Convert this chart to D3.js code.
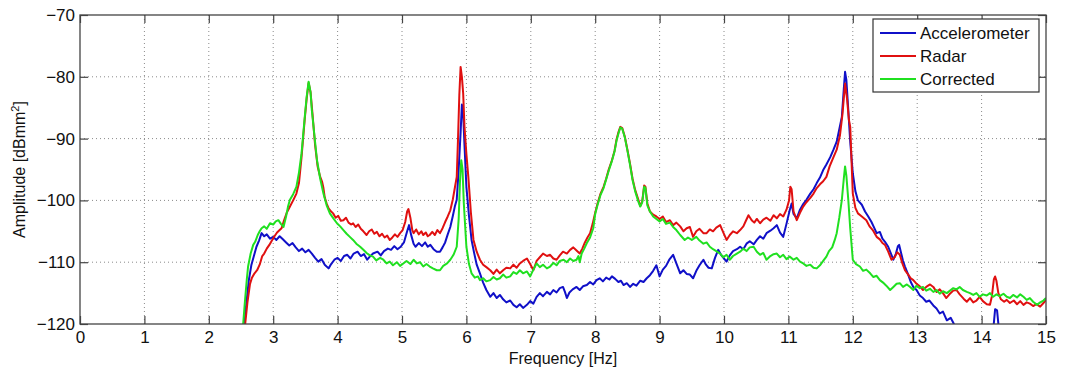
<!DOCTYPE html>
<html>
<head>
<meta charset="utf-8">
<script src="https://cdn.jsdelivr.net/npm/d3@7"></script>
<style>
  body { margin: 0; background: #fff; }
  svg { font-family: "Liberation Sans", Arial, sans-serif; }
</style>
</head>
<body>
<div id="chart"></div>
<script>
// axis ticks
var xTicks = [0, 1, 2, 3, 4, 5, 6, 7, 8, 9, 10, 11, 12, 13, 14, 15];
var yTicks = [-120, -110, -100, -90, -80, -70];
var seriesNames = ["Accelerometer", "Radar", "Corrected"];

// Accelerometer: [Hz, dB]
var accel = [[2.55,-120.5],[2.58,-117],[2.62,-113],[2.66,-110.5],[2.70,-109],[2.74,-107.5],[2.78,-106.5],[2.82,-105.3],[2.86,-105.8],[2.90,-105.5],[2.95,-106.2],[3.00,-105.9],[3.05,-106.4],[3.10,-105.8],[3.15,-106.3],[3.20,-106.8],[3.25,-107.3],[3.30,-106.9],[3.35,-107.6],[3.40,-108.2],[3.45,-107.8],[3.50,-108.4],[3.55,-108.0],[3.60,-108.6],[3.65,-109.3],[3.70,-109.9],[3.75,-109.5],[3.80,-110.4],[3.86,-111.0],[3.90,-110.3],[3.95,-109.6],[4.00,-109.3],[4.05,-109.8],[4.10,-109.0],[4.15,-108.8],[4.20,-109.4],[4.25,-108.6],[4.31,-108.3],[4.36,-109.0],[4.41,-108.7],[4.46,-109.6],[4.50,-109.1],[4.55,-108.6],[4.62,-108.3],[4.67,-108.9],[4.72,-108.2],[4.78,-107.8],[4.83,-108.0],[4.88,-107.4],[4.93,-107.9],[4.98,-107.5],[5.03,-106.8],[5.08,-105.0],[5.11,-104.0],[5.14,-105.5],[5.18,-107.0],[5.21,-107.5],[5.26,-106.9],[5.31,-107.4],[5.36,-106.8],[5.40,-107.5],[5.44,-107.2],[5.49,-107.9],[5.54,-108.3],[5.59,-108.3],[5.63,-107.6],[5.67,-106.8],[5.71,-105.5],[5.75,-104.3],[5.79,-102.5],[5.82,-101.0],[5.85,-99.9],[5.88,-95],[5.91,-89],[5.93,-84.5],[5.95,-86],[5.97,-91],[6.00,-97.8],[6.04,-102.5],[6.08,-106.4],[6.12,-108.5],[6.16,-110.4],[6.21,-111.8],[6.26,-113.3],[6.31,-114.5],[6.37,-115.6],[6.42,-115.0],[6.47,-115.8],[6.52,-115.3],[6.57,-116.0],[6.62,-116.5],[6.68,-116.2],[6.73,-116.9],[6.78,-117.3],[6.83,-116.8],[6.88,-117.4],[6.94,-116.9],[6.99,-116.3],[7.04,-116.7],[7.09,-115.6],[7.14,-115.0],[7.19,-115.5],[7.25,-114.8],[7.30,-115.2],[7.35,-114.5],[7.40,-114.9],[7.45,-114.2],[7.50,-114.0],[7.53,-114.8],[7.56,-115.8],[7.60,-114.9],[7.65,-114.4],[7.71,-114.0],[7.76,-114.5],[7.81,-113.9],[7.87,-113.7],[7.92,-113.2],[7.97,-113.6],[8.02,-112.9],[8.07,-112.6],[8.12,-113.1],[8.17,-112.5],[8.22,-112.8],[8.26,-112.3],[8.31,-112.7],[8.36,-113.2],[8.40,-113.0],[8.44,-113.7],[8.49,-113.4],[8.54,-114.0],[8.59,-113.5],[8.64,-113.8],[8.70,-113.0],[8.75,-113.2],[8.80,-112.6],[8.85,-112.1],[8.90,-111.4],[8.95,-110.5],[9.00,-112.3],[9.05,-111.2],[9.10,-110.6],[9.15,-109.6],[9.21,-108.8],[9.26,-110.2],[9.32,-111.8],[9.37,-111.3],[9.42,-111.9],[9.47,-112.0],[9.52,-112.6],[9.57,-111.4],[9.62,-110.5],[9.68,-109.6],[9.72,-110.4],[9.76,-110.9],[9.81,-111.0],[9.86,-109.3],[9.91,-108.0],[9.96,-108.9],[10.04,-109.9],[10.09,-108.9],[10.14,-108.2],[10.20,-107.9],[10.25,-107.5],[10.30,-107.9],[10.35,-107.0],[10.40,-106.6],[10.46,-107.1],[10.51,-106.4],[10.56,-105.8],[10.61,-106.2],[10.66,-105.3],[10.72,-104.9],[10.77,-104.5],[10.82,-104.0],[10.87,-105.2],[10.92,-105.9],[10.97,-103.8],[11.02,-101.6],[11.05,-100.5],[11.08,-102.2],[11.13,-102.9],[11.18,-101.5],[11.23,-100.6],[11.28,-99.9],[11.34,-98.9],[11.39,-98.2],[11.44,-97.2],[11.49,-96.3],[11.54,-95.1],[11.59,-94.2],[11.65,-93.0],[11.70,-91.8],[11.75,-90.5],[11.80,-88.0],[11.83,-86.5],[11.86,-82],[11.88,-79.2],[11.90,-80.5],[11.93,-85.4],[11.96,-90.5],[12.00,-95.6],[12.04,-98.5],[12.08,-100.0],[12.14,-100.7],[12.19,-101.8],[12.24,-102.6],[12.29,-103.5],[12.34,-104.6],[12.37,-105.3],[12.42,-105.1],[12.46,-106.2],[12.50,-106.7],[12.55,-107.5],[12.60,-108.8],[12.63,-109.6],[12.67,-108.6],[12.70,-107.4],[12.72,-107.2],[12.75,-108.5],[12.78,-109.8],[12.81,-110.7],[12.86,-112.0],[12.90,-113.2],[12.94,-114.0],[12.99,-114.5],[13.04,-115.4],[13.09,-115.8],[13.14,-116.4],[13.19,-116.2],[13.25,-117.0],[13.30,-117.5],[13.35,-118.3],[13.40,-118.0],[13.46,-119.4],[13.52,-119.0],[13.57,-120.0],[13.62,-120.8],[13.70,-121.5],[13.90,-122.5],[14.10,-122],[14.18,-121],[14.21,-117.6],[14.24,-117.8],[14.27,-121],[14.35,-122.5],[14.60,-123]];

// Radar: [Hz, dB]
var radar = [[2.56,-120.5],[2.60,-116.5],[2.64,-113.5],[2.67,-112.5],[2.71,-111.8],[2.75,-111.3],[2.79,-110.4],[2.83,-109.0],[2.86,-108.6],[2.90,-107.8],[2.94,-107.2],[2.98,-106.5],[3.02,-105.8],[3.06,-105.2],[3.10,-104.8],[3.13,-104.5],[3.17,-103.2],[3.21,-102.0],[3.26,-101.0],[3.31,-100.0],[3.36,-98.9],[3.40,-97.2],[3.44,-93.0],[3.49,-86.8],[3.52,-83.5],[3.55,-81.0],[3.58,-82.5],[3.61,-86.0],[3.65,-91.0],[3.69,-94.5],[3.73,-96.2],[3.76,-97.0],[3.78,-98.0],[3.80,-99.5],[3.83,-100.5],[3.86,-101.3],[3.90,-101.8],[3.93,-102.1],[3.97,-102.8],[4.01,-102.5],[4.05,-103.3],[4.09,-103.2],[4.13,-102.8],[4.17,-103.6],[4.21,-103.9],[4.24,-103.7],[4.28,-104.3],[4.32,-103.9],[4.36,-104.6],[4.40,-105.0],[4.45,-105.6],[4.49,-105.0],[4.53,-104.7],[4.57,-105.4],[4.61,-105.1],[4.65,-105.8],[4.69,-105.4],[4.73,-106.0],[4.77,-105.7],[4.81,-106.4],[4.85,-106.0],[4.89,-105.5],[4.93,-105.9],[4.97,-105.3],[5.01,-104.8],[5.05,-103.5],[5.08,-101.8],[5.10,-101.4],[5.13,-102.8],[5.16,-104.8],[5.18,-105.3],[5.22,-104.7],[5.26,-105.5],[5.30,-105.0],[5.33,-105.6],[5.37,-105.2],[5.40,-105.8],[5.43,-105.6],[5.47,-105.1],[5.51,-105.6],[5.55,-104.8],[5.59,-105.3],[5.63,-104.5],[5.67,-103.5],[5.71,-102.6],[5.75,-101.6],[5.79,-99.8],[5.82,-98.0],[5.85,-96.2],[5.87,-90],[5.89,-83],[5.91,-78.4],[5.93,-80],[5.95,-82.7],[5.97,-88],[6.00,-92.5],[6.03,-96.2],[6.07,-102.0],[6.11,-106.4],[6.16,-108.3],[6.21,-109.6],[6.26,-110.4],[6.31,-110.8],[6.37,-111.3],[6.42,-111.9],[6.47,-111.2],[6.52,-111.8],[6.57,-111.3],[6.62,-110.9],[6.68,-111.0],[6.73,-110.4],[6.78,-110.9],[6.83,-110.2],[6.88,-109.8],[6.94,-109.4],[6.99,-110.3],[7.04,-111.3],[7.09,-109.8],[7.14,-109.2],[7.19,-108.6],[7.25,-109.0],[7.30,-108.8],[7.35,-109.4],[7.40,-109.6],[7.45,-108.9],[7.50,-108.3],[7.56,-108.6],[7.61,-108.0],[7.66,-107.6],[7.71,-108.1],[7.76,-108.6],[7.80,-107.8],[7.84,-106.8],[7.88,-106.0],[7.92,-105.3],[7.96,-103.8],[8.00,-102.0],[8.04,-100.4],[8.08,-99.0],[8.13,-97.8],[8.17,-96.5],[8.21,-95.0],[8.26,-93.5],[8.30,-92.0],[8.33,-90.2],[8.36,-89.0],[8.39,-88.1],[8.42,-88.3],[8.46,-89.7],[8.50,-91.8],[8.54,-94.0],[8.58,-96.5],[8.62,-98.3],[8.67,-99.9],[8.70,-100.9],[8.73,-100.2],[8.76,-97.6],[8.78,-97.8],[8.81,-100.5],[8.85,-101.8],[8.90,-102.3],[8.95,-102.6],[9.00,-103.0],[9.05,-102.6],[9.10,-103.5],[9.16,-103.2],[9.21,-104.0],[9.26,-103.6],[9.32,-104.2],[9.37,-105.0],[9.42,-104.5],[9.47,-104.3],[9.52,-105.9],[9.57,-105.0],[9.62,-104.6],[9.68,-105.3],[9.73,-105.3],[9.78,-104.7],[9.83,-105.0],[9.88,-104.4],[9.94,-104.0],[9.99,-105.2],[10.04,-106.4],[10.09,-105.6],[10.14,-105.0],[10.20,-105.3],[10.25,-104.8],[10.30,-104.2],[10.34,-103.3],[10.38,-102.4],[10.43,-103.2],[10.47,-103.6],[10.51,-103.0],[10.56,-103.7],[10.61,-103.1],[10.66,-102.8],[10.72,-103.3],[10.77,-102.4],[10.82,-102.9],[10.87,-102.2],[10.92,-102.6],[10.97,-101.5],[11.01,-100.0],[11.03,-97.8],[11.05,-98.2],[11.08,-101.8],[11.13,-103.2],[11.18,-102.0],[11.23,-101.0],[11.28,-100.3],[11.34,-99.6],[11.39,-98.9],[11.44,-98.0],[11.49,-97.4],[11.54,-96.9],[11.59,-96.2],[11.64,-94.5],[11.70,-93.0],[11.75,-91.8],[11.80,-89.5],[11.84,-86.0],[11.86,-83.5],[11.88,-81.1],[11.91,-83.5],[11.94,-87],[11.96,-88.1],[11.98,-93.5],[12.00,-98.9],[12.04,-101.2],[12.08,-102.1],[12.14,-102.6],[12.21,-103.2],[12.26,-104.2],[12.31,-104.8],[12.37,-105.9],[12.42,-106.3],[12.46,-106.9],[12.50,-107.2],[12.55,-108.3],[12.60,-109.6],[12.65,-109.2],[12.69,-108.4],[12.73,-108.8],[12.77,-110.2],[12.81,-111.3],[12.86,-112.0],[12.90,-112.6],[12.94,-112.9],[12.99,-113.5],[13.04,-113.9],[13.09,-114.5],[13.14,-114.0],[13.20,-113.6],[13.25,-114.0],[13.30,-114.8],[13.35,-114.4],[13.40,-115.0],[13.45,-115.8],[13.50,-115.2],[13.56,-114.6],[13.61,-114.5],[13.66,-115.2],[13.72,-115.9],[13.77,-116.4],[13.82,-115.8],[13.87,-116.5],[13.92,-116.2],[13.97,-115.6],[14.02,-116.3],[14.08,-116.8],[14.13,-116.9],[14.16,-115.5],[14.19,-112.8],[14.21,-112.3],[14.23,-113.0],[14.26,-115.0],[14.30,-116.0],[14.35,-116.4],[14.39,-116.1],[14.44,-116.6],[14.50,-116.2],[14.55,-116.8],[14.60,-116.3],[14.65,-116.9],[14.70,-116.5],[14.75,-116.7],[14.80,-117.1],[14.85,-116.8],[14.91,-117.2],[14.96,-116.6],[15.00,-116.1]];

// Corrected: [Hz, dB]
var corrected = [[2.53,-120.5],[2.56,-116.5],[2.59,-112.8],[2.61,-110.7],[2.65,-108.6],[2.69,-107.2],[2.72,-106.7],[2.76,-105.6],[2.79,-105.0],[2.82,-104.5],[2.86,-104.2],[2.90,-104.6],[2.95,-103.7],[3.00,-103.9],[3.04,-103.4],[3.08,-103.2],[3.12,-103.8],[3.16,-104.3],[3.20,-102.6],[3.23,-101.0],[3.26,-99.9],[3.31,-99.0],[3.36,-97.8],[3.40,-95.5],[3.44,-92.4],[3.49,-86.5],[3.52,-83.2],[3.55,-80.8],[3.58,-82.5],[3.60,-85.4],[3.64,-89.5],[3.68,-93.5],[3.73,-96.5],[3.78,-98.9],[3.83,-100.8],[3.88,-102.1],[3.94,-103.0],[3.99,-103.7],[4.04,-104.2],[4.09,-104.8],[4.14,-105.4],[4.19,-105.9],[4.24,-106.4],[4.29,-107.0],[4.35,-107.5],[4.40,-108.0],[4.45,-108.5],[4.50,-108.9],[4.55,-109.1],[4.60,-109.7],[4.66,-109.3],[4.71,-109.6],[4.76,-110.2],[4.81,-109.9],[4.86,-110.5],[4.92,-110.0],[4.97,-110.6],[5.02,-110.2],[5.07,-109.8],[5.13,-110.3],[5.18,-109.6],[5.23,-110.2],[5.28,-110.0],[5.33,-110.7],[5.38,-110.3],[5.43,-110.7],[5.48,-111.0],[5.54,-111.3],[5.59,-111.3],[5.64,-110.6],[5.70,-110.2],[5.75,-109.6],[5.80,-108.8],[5.85,-107.5],[5.88,-103],[5.90,-97],[5.92,-93.5],[5.94,-95],[5.96,-100.5],[6.00,-107.5],[6.04,-110.3],[6.08,-111.8],[6.13,-112.5],[6.18,-112.3],[6.21,-112.9],[6.26,-112.6],[6.31,-113.1],[6.37,-112.9],[6.42,-112.4],[6.47,-112.8],[6.52,-112.6],[6.57,-112.0],[6.62,-112.5],[6.68,-112.3],[6.73,-111.6],[6.78,-111.9],[6.83,-111.3],[6.88,-111.8],[6.94,-111.5],[6.99,-112.3],[7.04,-111.2],[7.09,-110.2],[7.14,-110.8],[7.19,-110.4],[7.25,-111.0],[7.30,-110.7],[7.35,-110.1],[7.40,-110.5],[7.45,-109.8],[7.51,-109.6],[7.56,-110.0],[7.61,-109.4],[7.66,-109.8],[7.71,-109.6],[7.74,-109.0],[7.76,-110.0],[7.79,-108.6],[7.83,-107.8],[7.87,-106.9],[7.92,-106.0],[7.97,-104.5],[8.00,-102.2],[8.04,-100.6],[8.08,-99.2],[8.13,-98.0],[8.17,-96.6],[8.21,-95.2],[8.26,-93.6],[8.30,-92.1],[8.33,-90.4],[8.36,-89.2],[8.39,-88.2],[8.42,-88.4],[8.46,-89.8],[8.50,-91.9],[8.54,-94.2],[8.58,-96.7],[8.62,-98.5],[8.67,-100.2],[8.70,-101.0],[8.73,-100.3],[8.76,-97.8],[8.78,-98.0],[8.81,-100.8],[8.85,-101.8],[8.90,-102.6],[8.95,-103.0],[9.00,-103.4],[9.05,-103.0],[9.10,-103.8],[9.16,-103.6],[9.21,-104.3],[9.26,-104.8],[9.32,-105.6],[9.39,-106.4],[9.44,-106.0],[9.50,-106.4],[9.57,-105.9],[9.62,-106.5],[9.68,-107.0],[9.73,-106.8],[9.78,-107.5],[9.83,-107.9],[9.88,-108.2],[9.94,-108.6],[9.99,-109.2],[10.04,-108.8],[10.09,-109.6],[10.14,-109.0],[10.20,-108.6],[10.25,-108.3],[10.30,-107.8],[10.35,-108.2],[10.40,-107.6],[10.46,-107.5],[10.51,-108.3],[10.56,-108.8],[10.61,-108.5],[10.66,-109.6],[10.72,-109.0],[10.77,-108.7],[10.82,-108.6],[10.87,-109.2],[10.92,-108.8],[10.97,-109.5],[11.02,-109.1],[11.08,-109.6],[11.13,-109.3],[11.18,-109.9],[11.23,-110.2],[11.28,-110.6],[11.34,-110.4],[11.39,-110.9],[11.44,-111.0],[11.49,-110.5],[11.54,-109.8],[11.59,-109.1],[11.63,-108.2],[11.68,-107.6],[11.72,-106.4],[11.75,-105.3],[11.79,-102.8],[11.83,-99.9],[11.86,-96.5],[11.88,-94.5],[11.90,-96],[11.93,-99.9],[11.96,-104.5],[12.00,-109.6],[12.05,-110.3],[12.11,-110.7],[12.16,-111.4],[12.21,-111.2],[12.27,-111.8],[12.32,-112.4],[12.37,-112.2],[12.42,-112.9],[12.47,-113.3],[12.52,-113.8],[12.58,-114.5],[12.63,-114.0],[12.68,-113.5],[12.73,-113.4],[12.78,-114.0],[12.84,-113.6],[12.89,-114.0],[12.94,-114.5],[12.99,-113.8],[13.04,-114.2],[13.09,-114.0],[13.14,-114.6],[13.20,-114.3],[13.25,-114.8],[13.30,-114.5],[13.35,-115.1],[13.40,-114.7],[13.46,-115.0],[13.51,-114.6],[13.56,-114.2],[13.61,-114.4],[13.66,-114.0],[13.71,-114.5],[13.77,-114.8],[13.82,-115.0],[13.87,-115.3],[13.92,-115.0],[13.97,-115.6],[14.02,-115.2],[14.08,-115.4],[14.13,-115.0],[14.18,-115.6],[14.23,-115.2],[14.28,-115.5],[14.34,-115.1],[14.39,-115.6],[14.44,-115.8],[14.49,-115.3],[14.55,-115.7],[14.60,-115.2],[14.65,-115.6],[14.70,-116.1],[14.75,-115.8],[14.80,-116.4],[14.86,-116.9],[14.91,-116.5],[14.96,-116.2],[15.00,-115.8]];

var colors = ["#1010c8", "#e01010", "#20e020"];

var W = 1068, H = 369;
var margin = { top: 15, right: 22, bottom: 45, left: 80 },
    width = W - margin.left - margin.right,
    height = H - margin.top - margin.bottom;

var svg = d3.select("#chart")
    .append("svg")
    .attr("width", W)
    .attr("height", H)
    .append("g")
    .attr("transform", "translate(" + margin.left + "," + margin.top + ")");

var x = d3.scaleLinear().domain([0, 15]).range([0, width]);
var y = d3.scaleLinear().domain([-120, -70]).range([height, 0]);

// grid
svg.append("g")
    .selectAll("line.vg")
    .data(xTicks.slice(1, -1))
    .enter().append("line")
    .attr("x1", function (d) { return x(d); })
    .attr("x2", function (d) { return x(d); })
    .attr("y1", 0).attr("y2", height)
    .attr("stroke", "#8a8a8a").attr("stroke-width", 1)
    .attr("stroke-dasharray", "1,3");
svg.append("g")
    .selectAll("line.hg")
    .data(yTicks.slice(1, -1))
    .enter().append("line")
    .attr("y1", function (d) { return y(d); })
    .attr("y2", function (d) { return y(d); })
    .attr("x1", 0).attr("x2", width)
    .attr("stroke", "#8a8a8a").attr("stroke-width", 1)
    .attr("stroke-dasharray", "1,3");

// clip
svg.append("clipPath").attr("id", "clip")
    .append("rect").attr("width", width).attr("height", height);

var line = d3.line()
    .x(function (d) { return x(d[0]); })
    .y(function (d) { return y(d[1]); });

var plot = svg.append("g").attr("clip-path", "url(#clip)");
[accel, radar, corrected].forEach(function (s, i) {
    plot.append("path")
        .datum(s)
        .attr("fill", "none")
        .attr("stroke", colors[i])
        .attr("stroke-width", 2)
        .attr("stroke-linejoin", "round")
        .attr("d", line);
});

// axes (MATLAB style: inward ticks on all sides)
var tk = 8;
var axisStyle = function (g) {
    g.select(".domain").remove();
    g.selectAll(".tick line").attr("stroke", "#444").attr("stroke-width", 1.2);
    g.selectAll(".tick text").attr("fill", "#111").style("font-size", "17px");
};
svg.append("g")
    .attr("transform", "translate(0," + height + ")")
    .call(d3.axisBottom(x).tickValues(xTicks).tickSize(-tk).tickPadding(7).tickFormat(d3.format("d")))
    .call(axisStyle);
svg.append("g")
    .call(d3.axisTop(x).tickValues(xTicks).tickSize(-tk).tickFormat(""))
    .call(axisStyle);
svg.append("g")
    .call(d3.axisLeft(y).tickValues(yTicks).tickSize(-tk).tickPadding(5).tickFormat(d3.format("d")))
    .call(axisStyle);
svg.append("g")
    .attr("transform", "translate(" + width + ",0)")
    .call(d3.axisRight(y).tickValues(yTicks).tickSize(-tk).tickFormat(""))
    .call(axisStyle);

svg.append("rect")
    .attr("width", width).attr("height", height)
    .attr("fill", "none").attr("stroke", "#444").attr("stroke-width", 1.3);

// axis labels
svg.append("text")
    .attr("x", width / 2).attr("y", height + 40)
    .attr("text-anchor", "middle")
    .style("font-size", "16px").attr("fill", "#111")
    .text("Frequency [Hz]");

var yl = svg.append("text")
    .attr("transform", "translate(-55," + (height / 2) + ") rotate(-90)")
    .attr("text-anchor", "middle")
    .style("font-size", "16px").attr("fill", "#111");
yl.append("tspan").text("Amplitude [dBmm");
yl.append("tspan").attr("dy", -6).style("font-size", "11px").text("2");
yl.append("tspan").attr("dy", 6).text("]");

// legend
var lg = svg.append("g").attr("transform", "translate(" + (x(15) - 173) + ",4)");
lg.append("rect")
    .attr("width", 166).attr("height", 73)
    .attr("fill", "#fff").attr("stroke", "#333").attr("stroke-width", 1.2);
seriesNames.forEach(function (name, i) {
    var yy = 14 + i * 23;
    lg.append("line")
        .attr("x1", 7).attr("x2", 43).attr("y1", yy).attr("y2", yy)
        .attr("stroke", colors[i]).attr("stroke-width", 2);
    lg.append("text")
        .attr("x", 47).attr("y", yy + 6)
        .style("font-size", "17px").attr("fill", "#111")
        .text(name);
});
</script>
</body>
</html>
